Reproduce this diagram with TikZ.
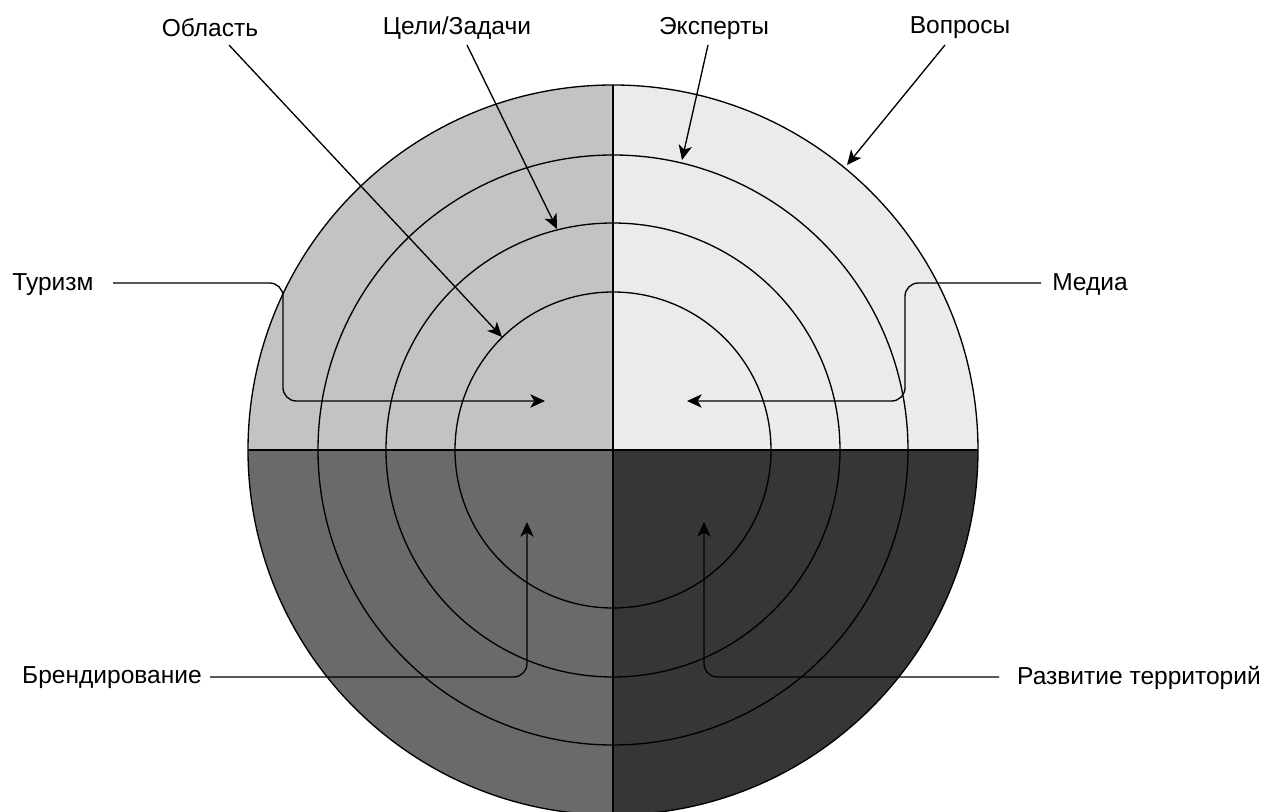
\documentclass[tikz,border=0pt]{standalone}
\usepackage{fontspec}
\setmainfont{Liberation Sans}
\usetikzlibrary{arrows.meta}

\tikzset{every picture/.style={line width=1pt}}
\tikzset{
  lbl/.style={inner sep=0.75pt, font=\fontsize{18.4}{22}\selectfont},
  pointer/.style={-{Stealth[length=11pt,width=10pt,inset=3pt]}},
  elbow/.style={pointer, rounded corners=10pt}
}

\begin{document}
\begin{tikzpicture}[x=0.75pt,y=0.75pt,yscale=-1,xscale=1]
    \useasboundingbox (0,0) rectangle (1265,812);

    %Quadrants
    \fill [color={rgb, 255:red, 195; green, 195; blue, 195 }] (613,450) -- (248,450) arc (180:270:365) -- cycle ;
    \fill [color={rgb, 255:red, 235; green, 235; blue, 235 }] (613,450) -- (613,85) arc (270:360:365) -- cycle ;
    \fill [color={rgb, 255:red, 106; green, 106; blue, 106 }] (613,450) -- (248,450) arc (180:90:365) -- cycle ;
    \fill [color={rgb, 255:red, 54; green, 54; blue, 54 }] (613,450) -- (978,450) arc (0:90:365) -- cycle ;
    %Rings
    \draw  (613,450) circle [radius=365] ;
    \draw  (613,450) circle [radius=295] ;
    \draw  (613,450) circle [radius=227] ;
    \draw  (613,450) circle [radius=158] ;
    %Dividers
    \draw  (613,85) -- (613,815) ;
    \draw  (248,450) -- (978,450) ;

    % Text Nodes
    \node [lbl] (obl) at (210,28) {Область};
    \node [lbl] (goal) at (457,28) {Цели/Задачи};
    \node [lbl] (exp) at (714,28) {Эксперты};
    \node [lbl] (ques) at (960,28) {Вопросы};
    \node [lbl] (tour) at (53,285) {Туризм};
    \node [lbl] (media) at (1090,285) {Медиа};
    \node [lbl] (brand) at (112,678) {Брендирование};
    \node [lbl] (terr) at (1139,678) {Развитие территорий};

    %Arrow ends
    \coordinate (oblS) at (229,45) ;
    \coordinate (oblE) at (502,337) ;
    \coordinate (goalS) at (467,45) ;
    \coordinate (goalE) at (557,229) ;
    \coordinate (expS) at (708,45) ;
    \coordinate (expE) at (682,160) ;
    \coordinate (quesS) at (945,45) ;
    \coordinate (quesE) at (847,165) ;
    \coordinate (tourS) at (113,283) ;
    \coordinate (tourE) at (545,401) ;
    \coordinate (mediaS) at (1041,283) ;
    \coordinate (mediaE) at (687,401) ;
    \coordinate (brandS) at (210,677) ;
    \coordinate (brandE) at (527,522) ;
    \coordinate (terrS) at (999,677) ;
    \coordinate (terrE) at (704,522) ;

    %Straight Lines
    \draw [pointer] (oblS) -- (oblE) ;
    \draw [pointer] (goalS) -- (goalE) ;
    \draw [pointer] (expS) -- (expE) ;
    \draw [pointer] (quesS) -- (quesE) ;
    %Elbow Lines
    \draw [elbow] (tourS) -- (283,283) -- (283,401) -- (tourE) ;
    \draw [elbow] (mediaS) -- (905,283) -- (905,401) -- (mediaE) ;
    \draw [elbow] (brandS) -- (527,677) -- (brandE) ;
    \draw [elbow] (terrS) -- (704,677) -- (terrE) ;

\end{tikzpicture}
\end{document}
